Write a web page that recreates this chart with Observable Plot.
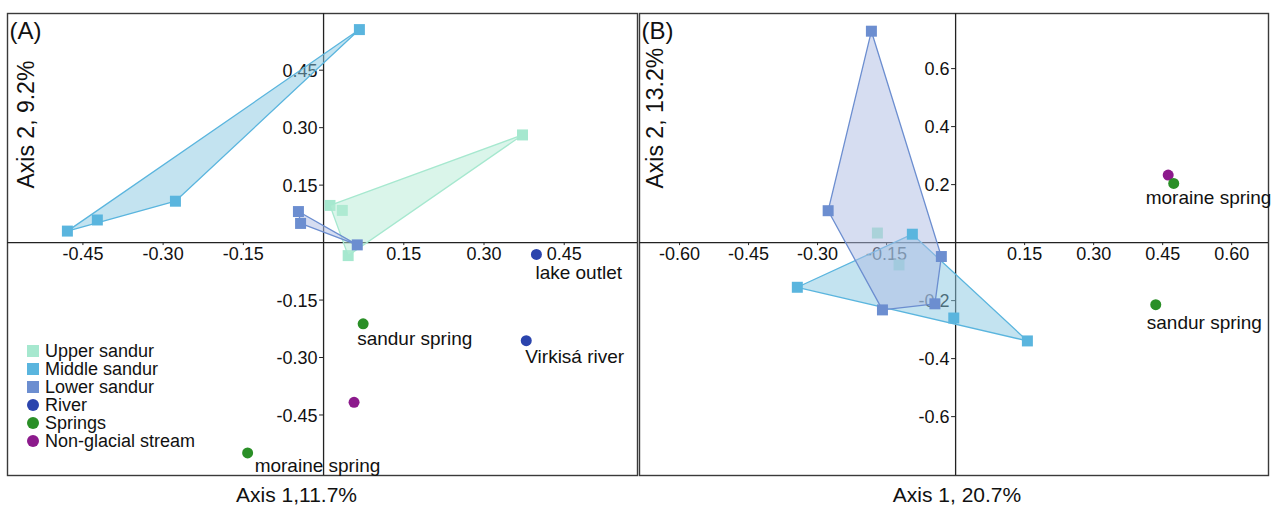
<!DOCTYPE html>
<html>
<head>
<meta charset="utf-8">
<script src="https://cdn.jsdelivr.net/npm/d3@7"></script>
<script src="https://cdn.jsdelivr.net/npm/@observablehq/plot@0.6"></script>
<style>
  body { margin: 0; background: #fff; }
  #wrap { position: relative; width: 1271px; height: 508px; overflow: hidden; font-family: "Liberation Sans", Arial, sans-serif; }
  .panel { position: absolute; top: 0; }
  #legend { position: absolute; left: 27px; top: 342px; font-size: 18px; color: #111; line-height: 18px; }
  .item { display: flex; align-items: center; height: 18px; }
  .sw { width: 12px; height: 12px; margin-right: 6px; flex: none; }
</style>
</head>
<body>
<div id="wrap"></div>
<script>
// ---- categories ----
const categories = ["Upper sandur", "Middle sandur", "Lower sandur", "River", "Springs", "Non-glacial stream"];
const catColors = ["#a6e8cf", "#5ab5de", "#6c8ed0", "#2b44ad", "#2a8f27", "#8c1a8c"];
const catShapes = ["square", "square", "square", "circle", "circle", "circle"];
const hullFills = ["#b6ebd6", "#87c8e2", "#adbce4"];

// ---- panel A (axis 1 vs axis 2) ----
const aUpperSandur = [[0.012, 0.097], [0.035, 0.084], [0.046, -0.034], [0.372, 0.281]];
const aMiddleSandur = [[0.067, 0.556], [-0.479, 0.030], [-0.423, 0.059], [-0.277, 0.108]];
const aLowerSandur = [[-0.047, 0.081], [-0.043, 0.050], [0.063, -0.006]];
const aRiver = [[0.398, -0.031], [0.379, -0.256]];
const aRiverNames = ["lake outlet", "Virkisá river"];
const aSprings = [[0.074, -0.212], [-0.142, -0.549]];
const aSpringNames = ["sandur spring", "moraine spring"];
const aNonGlacial = [[0.057, -0.417]];
const aXTicks = [-0.45, -0.30, -0.15, 0.15, 0.30, 0.45];
const aXTickLabels = ["-0.45", "-0.30", "-0.15", "0.15", "0.30", "0.45"];
const aYTicks = [0.45, 0.30, 0.15, -0.15, -0.30, -0.45];
const aYTickLabels = ["0.45", "0.30", "0.15", "-0.15", "-0.30", "-0.45"];

// ---- panel B ----
const bUpperSandur = [[-0.170, 0.033], [-0.123, -0.077]];
const bMiddleSandur = [[-0.344, -0.154], [-0.094, 0.029], [-0.004, -0.260], [0.156, -0.339]];
const bLowerSandur = [[-0.183, 0.729], [-0.277, 0.110], [-0.031, -0.048], [-0.045, -0.211], [-0.159, -0.232]];
const bRiver = [];
const bRiverNames = [];
const bSprings = [[0.474, 0.204], [0.435, -0.214]];
const bSpringNames = ["moraine spring", "sandur spring"];
const bNonGlacial = [[0.462, 0.233]];
const bXTicks = [-0.60, -0.45, -0.30, -0.15, 0.15, 0.30, 0.45, 0.60];
const bXTickLabels = ["-0.60", "-0.45", "-0.30", "-0.15", "0.15", "0.30", "0.45", "0.60"];
const bYTicks = [0.6, 0.4, 0.2, -0.2, -0.4, -0.6];
const bYTickLabels = ["0.6", "0.4", "0.2", "-0.2", "-0.4", "-0.6"];

// ---- titles ----
const panelLetters = ["(A)", "(B)"];
const axis1Titles = ["Axis 1,11.7%", "Axis 1, 20.7%"];
const axis2Titles = ["Axis 2, 9.2%", "Axis 2, 13.2%"];

// label offsets (style only)
const labelOffsets = {
  "A|lake outlet": [-1, 11], "A|Virkisá river": [-1, 9], "A|sandur spring": [-6, 8], "A|moraine spring": [7, 6],
  "B|moraine spring": [-28, 7], "B|sandur spring": [-9, 11]
};

const FONT = "'Liberation Sans', Arial, sans-serif";

function panel(cfg) {
  const groups = [cfg.upper, cfg.middle, cfg.lower];
  const pts = (arr, ci, names) => arr.map((p, i) => ({x: p[0], y: p[1], c: ci, name: names ? names[i] : null}));
  const marks = [
    Plot.frame({stroke: "#3a3a3a", strokeWidth: 1.4}),
    Plot.ruleX([0], {stroke: "#222", strokeWidth: 1.3}),
    Plot.ruleY([0], {stroke: "#222", strokeWidth: 1.3}),
    // tick marks
    Plot.ruleY(cfg.yTicks, {y: d => d, x1: 0, x2: 0, insetLeft: -4, stroke: "#222", strokeWidth: 1}),
    Plot.ruleX(cfg.xTicks, {x: d => d, y1: 0, y2: 0, insetBottom: -3, stroke: "#222", strokeWidth: 1}),
    // tick labels
    Plot.text(cfg.xTicks, {x: d => d, y: 0, text: (d, i) => cfg.xLabels[i], lineAnchor: "top", dy: 5, fill: "#111", fontSize: 18}),
    Plot.text(cfg.yTicks, {x: 0, y: d => d, text: (d, i) => cfg.yLabels[i], textAnchor: "end", lineAnchor: "middle", dx: -6, dy: 1, fill: "#111", fontSize: 18}),
    // upper sandur points (below hull fills)
    Plot.dot(pts(cfg.upper, 0), {x: "x", y: "y", symbol: "square", r: 6.2, fill: catColors[0], stroke: "none"})
  ];
  groups.forEach((g, gi) => {
    if (g.length >= 3) {
      marks.push(Plot.hull(pts(g, gi), {x: "x", y: "y", fill: hullFills[gi], fillOpacity: 0.5, stroke: catColors[gi], strokeWidth: 1.3}));
    }
  });
  marks.push(
    Plot.dot(pts(cfg.lower, 2), {x: "x", y: "y", symbol: "square", r: 6.2, fill: catColors[2], stroke: "none"}),
    Plot.dot(pts(cfg.middle, 1), {x: "x", y: "y", symbol: "square", r: 6.2, fill: catColors[1], stroke: "none"}),
    Plot.dot(pts(cfg.nonGlacial, 5), {x: "x", y: "y", r: 5.5, fill: catColors[5], stroke: "none"}),
    Plot.dot(pts(cfg.springs, 4), {x: "x", y: "y", r: 5.5, fill: catColors[4], stroke: "none"}),
    Plot.dot(pts(cfg.river, 3), {x: "x", y: "y", r: 5.5, fill: catColors[3], stroke: "none"})
  );
  const lab = [...pts(cfg.river, 3, cfg.riverNames), ...pts(cfg.springs, 4, cfg.springNames)];
  lab.forEach(d => {
    const off = labelOffsets[cfg.id + "|" + d.name] || [0, 8];
    marks.push(Plot.text([d], {x: "x", y: "y", text: "name", textAnchor: "start", lineAnchor: "top", dx: off[0], dy: off[1], fill: "#111", fontSize: 19}));
  });
  marks.push(
    Plot.text([cfg.letter], {frameAnchor: "top-left", text: d => d, textAnchor: "start", lineAnchor: "top", dx: 2, dy: 8, fontSize: 24, fill: "#111"}),
    Plot.text([cfg.axis1], {frameAnchor: "bottom", text: d => d, lineAnchor: "top", dy: 12, dx: cfg.axis1dx, fontSize: 21, fill: "#111"}),
    Plot.text([cfg.axis2], {frameAnchor: "top-left", text: d => d, rotate: -90, textAnchor: "start", lineAnchor: "middle", dx: cfg.axis2pos[0], dy: cfg.axis2pos[1], fontSize: 23, fill: "#111"})
  );
  return Plot.plot({
    width: cfg.width, height: 508,
    marginLeft: cfg.ml, marginRight: cfg.mr, marginTop: 13, marginBottom: 33,
    x: {domain: cfg.xDomain, axis: null},
    y: {domain: cfg.yDomain, axis: null},
    style: {fontFamily: FONT, fontSize: "18px", background: "transparent", overflow: "visible"},
    marks
  });
}

const wrap = document.getElementById("wrap");
const pA = panel({
  id: "A", width: 638, ml: 7, mr: 1,
  xDomain: [-0.591, 0.587], yDomain: [-0.608, 0.598],
  upper: aUpperSandur, middle: aMiddleSandur, lower: aLowerSandur,
  river: aRiver, riverNames: aRiverNames, springs: aSprings, springNames: aSpringNames, nonGlacial: aNonGlacial,
  xTicks: aXTicks, xLabels: aXTickLabels, yTicks: aYTicks, yLabels: aYTickLabels,
  letter: panelLetters[0], axis1: axis1Titles[0], axis2: axis2Titles[0], axis1dx: -26, axis2pos: [19, 175]
});
pA.classList.add("panel"); pA.style.left = "0px";
wrap.appendChild(pA);

const pB = panel({
  id: "B", width: 633, ml: 1, mr: 3,
  xDomain: [-0.687, 0.680], yDomain: [-0.803, 0.790],
  upper: bUpperSandur, middle: bMiddleSandur, lower: bLowerSandur,
  river: bRiver, riverNames: bRiverNames, springs: bSprings, springNames: bSpringNames, nonGlacial: bNonGlacial,
  xTicks: bXTicks, xLabels: bXTickLabels, yTicks: bYTicks, yLabels: bYTickLabels,
  letter: panelLetters[1], axis1: axis1Titles[1], axis2: axis2Titles[1], axis1dx: 3, axis2pos: [16, 175]
});
pB.classList.add("panel"); pB.style.left = "638px";
wrap.appendChild(pB);

// legend
const legend = document.createElement("div");
legend.id = "legend";
categories.forEach((c, i) => {
  const it = document.createElement("div");
  it.className = "item";
  const sw = document.createElement("span");
  sw.className = "sw";
  sw.style.background = catColors[i];
  if (catShapes[i] === "circle") sw.style.borderRadius = "50%";
  const tx = document.createElement("span");
  tx.textContent = c;
  it.appendChild(sw); it.appendChild(tx);
  legend.appendChild(it);
});
wrap.appendChild(legend);
</script>
</body>
</html>
